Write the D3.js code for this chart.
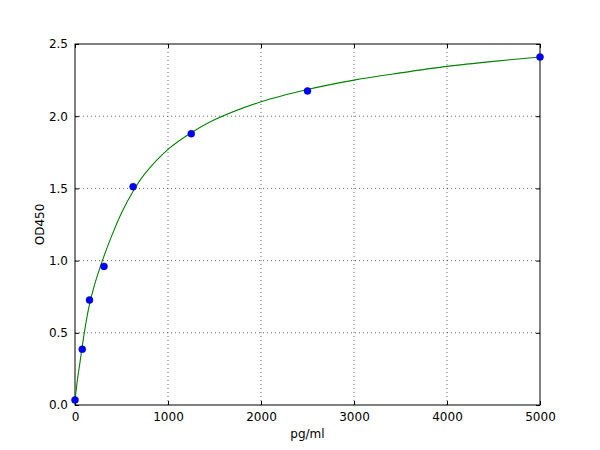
<!DOCTYPE html>
<html>
<head>
<meta charset="utf-8">
<script src="https://cdn.jsdelivr.net/npm/d3@7"></script>
<style>
  body { margin: 0; background: #fff; }
  svg text { font-family: "DejaVu Sans", sans-serif; font-size: 12px; fill: #000; }
</style>
</head>
<body>
<svg id="chart" width="600" height="450"></svg>
<script>
// standard points
var concs = [0, 78, 156, 312, 625, 1250, 2500, 5000];
var ods = [0.035, 0.386, 0.727, 0.96, 1.512, 1.879, 2.175, 2.41];

// fitted curve
var curveX = [0, 25, 50, 100, 150, 200, 300, 400, 500, 625, 750, 1000, 1250, 1500, 2000, 2500, 3000, 3500, 4000, 4500, 5000];
var curveY = [0.03, 0.17, 0.28, 0.50, 0.68, 0.81, 1.01, 1.18, 1.33, 1.48, 1.60, 1.77, 1.885, 1.975, 2.10, 2.185, 2.25, 2.30, 2.345, 2.38, 2.41];

var xTicks = [0, 1000, 2000, 3000, 4000, 5000];
var yTicks = [0.0, 0.5, 1.0, 1.5, 2.0, 2.5];

var svg = d3.select("#chart"),
    margin = {top: 44, right: 60, bottom: 45, left: 75},
    width = 600 - margin.left - margin.right,
    height = 450 - margin.top - margin.bottom,
    g = svg.append("g").attr("transform", "translate(" + margin.left + "," + margin.top + ")");

var x = d3.scaleLinear().domain([0, 5000]).range([0, width]),
    y = d3.scaleLinear().domain([0, 2.5]).range([height, 0]);

// grid
g.append("g").selectAll("line").data(xTicks.slice(1, -1)).enter().append("line")
    .attr("x1", function(d) { return x(d); }).attr("x2", function(d) { return x(d); })
    .attr("y1", 0).attr("y2", height)
    .attr("stroke", "#000").attr("stroke-width", 0.6).attr("stroke-dasharray", "1,3");
g.append("g").selectAll("line").data(yTicks.slice(1, -1)).enter().append("line")
    .attr("y1", function(d) { return y(d); }).attr("y2", function(d) { return y(d); })
    .attr("x1", 0).attr("x2", width)
    .attr("stroke", "#000").attr("stroke-width", 0.6).attr("stroke-dasharray", "1,3");

// axes, ticks pointing inward like matplotlib classic
var xb = g.append("g").attr("transform", "translate(0," + height + ")")
    .call(d3.axisBottom(x).tickValues(xTicks).tickSize(-4).tickPadding(7).tickFormat(d3.format("d")));
var yl = g.append("g")
    .call(d3.axisLeft(y).tickValues(yTicks).tickSize(-4).tickPadding(7).tickFormat(d3.format(".1f")));
var xt = g.append("g")
    .call(d3.axisTop(x).tickValues(xTicks).tickSize(-4).tickFormat(""));
var yr = g.append("g").attr("transform", "translate(" + width + ",0)")
    .call(d3.axisRight(y).tickValues(yTicks).tickSize(-4).tickFormat(""));
[xb, yl, xt, yr].forEach(function(a) {
    a.select(".domain").remove();
    a.selectAll("text").style("font-family", "DejaVu Sans, sans-serif").style("font-size", "12px");
});

g.append("rect").attr("width", width).attr("height", height)
    .attr("fill", "none").attr("stroke", "#000").attr("stroke-width", 1);

// curve
var line = d3.line()
    .x(function(d, i) { return x(curveX[i]); })
    .y(function(d) { return y(d); })
    .curve(d3.curveCatmullRom.alpha(0.5));
g.append("path").datum(curveY)
    .attr("fill", "none").attr("stroke", "#008000").attr("stroke-width", 1.1)
    .attr("d", line);

// points
g.append("g").selectAll("circle").data(ods).enter().append("circle")
    .attr("cx", function(d, i) { return x(concs[i]); })
    .attr("cy", function(d) { return y(d); })
    .attr("r", 3.5)
    .attr("fill", "#0000ff").attr("stroke", "#00008b").attr("stroke-width", 0.5);

svg.append("text").attr("x", margin.left + width / 2).attr("y", 438)
    .attr("text-anchor", "middle").text("pg/ml");
svg.append("text").attr("transform", "translate(44," + (margin.top + height / 2) + ") rotate(-90)")
    .attr("text-anchor", "middle").text("OD450");
</script>
</body>
</html>
